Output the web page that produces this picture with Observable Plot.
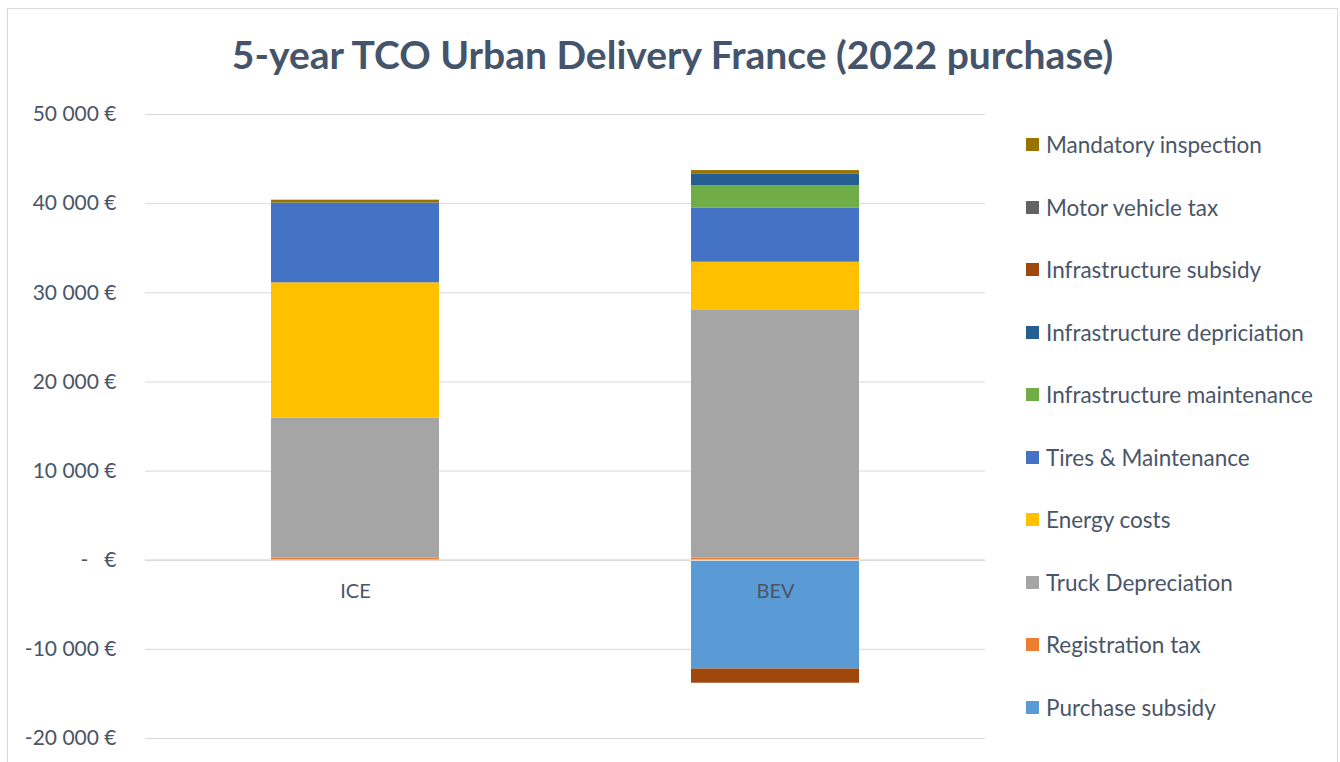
<!DOCTYPE html>
<html>
<head>
<meta charset="utf-8">
<script src="https://cdn.jsdelivr.net/npm/d3@7"></script>
<script src="https://cdn.jsdelivr.net/npm/@observablehq/plot@0.6"></script>
<style>
  html, body { margin: 0; padding: 0; background: #fff; }
  #wrap { position: relative; width: 1340px; height: 762px; overflow: hidden; font-family: Lato, "Open Sans", sans-serif; }
  #frame { position: absolute; left: 7px; top: 8px; width: 1331px; height: 770px; border: 1px solid #D9D9D9; box-sizing: border-box; }
  #title { position: absolute; left: 0; width: 1345px; top: 31px; text-align: center; font-size: 39px; font-weight: bold; color: #44546A; white-space: nowrap; }
  #chart { position: absolute; left: 0; top: 0; }
  #legend { position: absolute; left: 1026px; top: 0; }
  .item { position: absolute; left: 0; display: flex; align-items: center; white-space: nowrap; font-size: 22.5px; color: #4A5568; }
  .sw { width: 13px; height: 13px; margin-right: 7px; }
</style>
</head>
<body>
<div id="wrap">
  <div id="frame"></div>
  <div id="chart"></div>
  <div id="title">5-year TCO Urban Delivery France (2022 purchase)</div>
  <div id="legend"></div>
</div>
<script>
// Categories (x axis)
const categories = ["ICE", "BEV"];
// Series in stacking order (bottom to top)
const seriesNames = [
  "Purchase subsidy",
  "Registration tax",
  "Truck Depreciation",
  "Energy costs",
  "Tires & Maintenance",
  "Infrastructure maintenance",
  "Infrastructure depriciation",
  "Infrastructure subsidy",
  "Motor vehicle tax",
  "Mandatory inspection"
];
const seriesColors = [
  "#5B9BD5", "#ED7D31", "#A5A5A5", "#FFC000", "#4472C4",
  "#70AD47", "#255E91", "#9E480E", "#636363", "#997300"
];
// Values (€) per series, same order as seriesNames
const iceValues = [0, 250, 15700, 15170, 8950, 0, 0, 0, 0, 320];
const bevValues = [-12200, 250, 27840, 5340, 6045, 2550, 1315, -1600, 0, 370];
// Y axis ticks
const yTicks = [-20000, -10000, 0, 10000, 20000, 30000, 40000, 50000];

const table = [];
seriesNames.forEach((s, i) => {
  table.push({cat: "ICE", series: s, value: iceValues[i]});
  table.push({cat: "BEV", series: s, value: bevValues[i]});
});

const fmt = d => d === 0 ? "-\u00a0\u00a0\u00a0€"
  : (d < 0 ? "-" : "") + d3.format(",")(Math.abs(d)).replace(/,/g, "\u00a0") + "\u00a0€";

const plot = Plot.plot({
  width: 1000,
  height: 762,
  marginTop: 114,
  marginBottom: 24,
  marginLeft: 145,
  marginRight: 15,
  style: {fontFamily: "Lato, 'Open Sans', sans-serif", background: "transparent"},
  x: {domain: categories, paddingInner: 0.6, paddingOuter: 0.3, axis: null},
  y: {domain: [-20000, 50000], ticks: yTicks, axis: null},
  color: {domain: seriesNames, range: seriesColors},
  marks: [
    Plot.gridY(yTicks, {stroke: "#D9D9D9", strokeOpacity: 1, strokeWidth: 1}),
    Plot.axisY(yTicks, {tickFormat: fmt, tickSize: 0, tickPadding: 29, fontSize: 21, color: "#4A5568", label: null}),
    Plot.barY(table, {x: "cat", y: "value", fill: "series", order: seriesNames, inset: 0}),
    Plot.ruleY([0], {stroke: "#D9D9D9", strokeWidth: 1.5}),
    Plot.text(categories, {x: d => d, y: 0, dy: 31, text: d => d, fontSize: 20, fill: "#4A5568"})
  ]
});
document.getElementById("chart").appendChild(plot);

// Legend (reverse order, top = last series)
const legend = document.getElementById("legend");
const legendOrder = seriesNames.map((s, i) => i).reverse();
legendOrder.forEach((idx, row) => {
  const item = document.createElement("div");
  item.className = "item";
  item.style.top = (131 + row * 62.5) + "px";
  const sw = document.createElement("div");
  sw.className = "sw";
  sw.style.background = seriesColors[idx];
  const lab = document.createElement("span");
  lab.textContent = seriesNames[idx];
  item.appendChild(sw);
  item.appendChild(lab);
  legend.appendChild(item);
});
</script>
</body>
</html>
